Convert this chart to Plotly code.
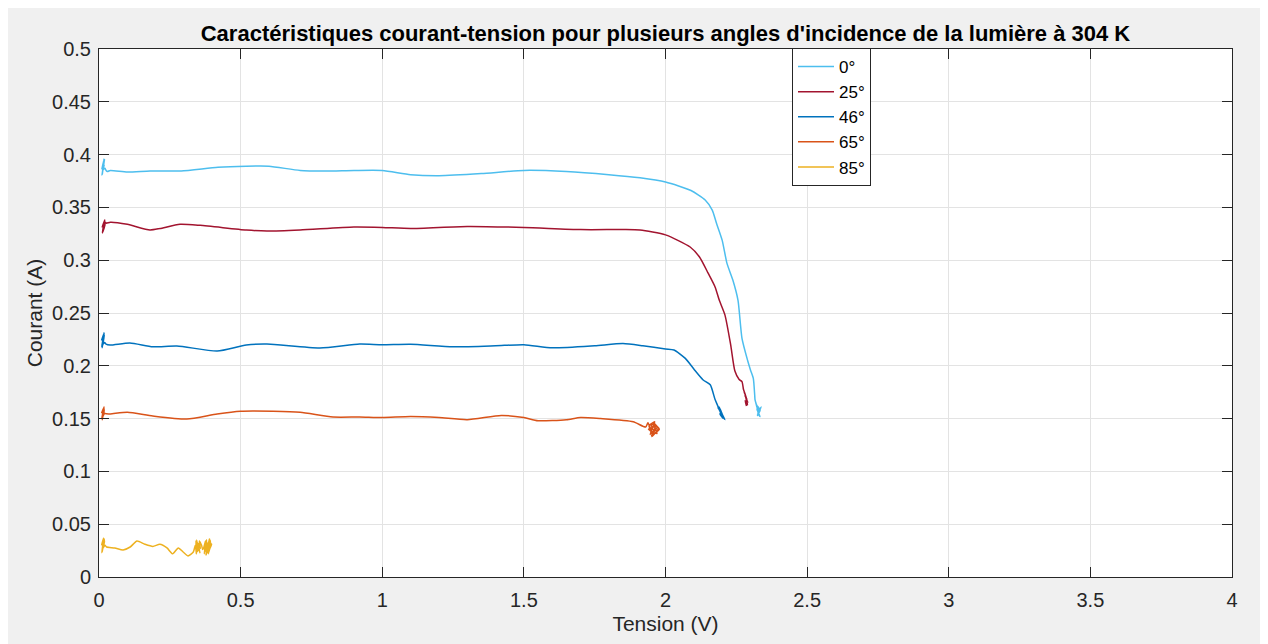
import plotly.graph_objects as go

# ---------------- data ----------------
angle_labels = ["0°", "25°", "46°", "65°", "85°"]
colors = ["#4DBEEE", "#A2142F", "#0072BD", "#D95319", "#EDB120"]

# 0°
v_0 = [0.010, 0.016, 0.012, 0.018, 0.011, 0.017, 0.013, 0.019, 0.012, 0.018, 0.015, 0.021, 0.025, 0.030,
       0.04, 0.10, 0.18, 0.29, 0.42, 0.52, 0.60, 0.71, 0.80, 0.90, 1.00, 1.10, 1.20, 1.35, 1.50, 1.65, 1.80,
       1.91, 2.00, 2.09, 2.14, 2.165, 2.18, 2.20, 2.217, 2.238, 2.256, 2.27, 2.29, 2.30, 2.31, 2.315,
       2.316, 2.324, 2.318, 2.330, 2.320, 2.334, 2.324, 2.338, 2.326, 2.334, 2.322, 2.330]
i_0 = [0.386, 0.394, 0.382, 0.396, 0.381, 0.392, 0.384, 0.395, 0.383, 0.390, 0.386, 0.387, 0.385, 0.384,
       0.385, 0.3835, 0.3845, 0.3845, 0.388, 0.389, 0.389, 0.385, 0.3845, 0.385, 0.385, 0.381, 0.380, 0.382,
       0.385, 0.384, 0.381, 0.378, 0.374, 0.366, 0.357, 0.3475, 0.335, 0.319, 0.297, 0.281, 0.262, 0.226,
       0.205, 0.196, 0.188, 0.172,
       0.168, 0.160, 0.166, 0.156, 0.163, 0.158, 0.153, 0.161, 0.155, 0.152, 0.159, 0.154]

# 25°
v_25 = [0.011, 0.018, 0.012, 0.020, 0.013, 0.021, 0.014, 0.022, 0.016, 0.023, 0.026,
        0.04, 0.10, 0.18, 0.215, 0.286, 0.357, 0.52, 0.593, 0.71, 0.90, 1.00, 1.10, 1.30, 1.50, 1.70, 1.85,
        1.91, 2.00, 2.087, 2.12, 2.15, 2.175, 2.19, 2.21, 2.23, 2.245, 2.26, 2.27, 2.275,
        2.276, 2.284, 2.278, 2.288, 2.280, 2.291, 2.283, 2.290, 2.281, 2.286]
i_25 = [0.331, 0.337, 0.326, 0.338, 0.328, 0.335, 0.327, 0.334, 0.330, 0.336, 0.335,
        0.336, 0.334, 0.3286, 0.330, 0.334, 0.333, 0.3286, 0.3276, 0.3286, 0.3314, 0.331, 0.330, 0.332,
        0.331, 0.329, 0.329, 0.3286, 0.324, 0.3125, 0.303, 0.288, 0.2747, 0.262, 0.248, 0.220, 0.195,
        0.187, 0.185, 0.178,
        0.177, 0.171, 0.175, 0.168, 0.172, 0.165, 0.170, 0.163, 0.167, 0.162]

# 46°
v_46 = [0.009, 0.016, 0.010, 0.018, 0.011, 0.019, 0.010, 0.018, 0.012, 0.020, 0.025,
        0.039, 0.109, 0.19, 0.275, 0.417, 0.52, 0.593, 0.78, 0.92, 1.00, 1.10, 1.25, 1.40, 1.50, 1.60,
        1.75, 1.85, 1.92, 2.00, 2.03, 2.07, 2.10, 2.133, 2.158, 2.175, 2.186,
        2.186, 2.198, 2.189, 2.204, 2.190, 2.208, 2.192, 2.210, 2.194, 2.206, 2.192, 2.204]
i_46 = [0.224, 0.230, 0.218, 0.231, 0.217, 0.229, 0.219, 0.228, 0.220, 0.222, 0.2205,
        0.2197, 0.2216, 0.218, 0.2188, 0.214, 0.2197, 0.2206, 0.2169, 0.2206, 0.220, 0.2205, 0.218, 0.219,
        0.220, 0.217, 0.219, 0.221, 0.219, 0.216, 0.215, 0.207, 0.197, 0.1866, 0.182, 0.168, 0.161,
        0.160, 0.156, 0.161, 0.152, 0.158, 0.150, 0.155, 0.149, 0.157, 0.151, 0.154, 0.150]

# 65°
v_65 = [0.009, 0.016, 0.010, 0.018, 0.011, 0.019, 0.012, 0.018, 0.013, 0.020, 0.026,
        0.04, 0.10, 0.19, 0.31, 0.417, 0.50, 0.615, 0.71, 0.826, 0.92, 1.00, 1.10, 1.20, 1.30, 1.42, 1.50,
        1.55, 1.65, 1.70, 1.77, 1.886, 1.93,
        1.938, 1.950, 1.942, 1.962, 1.946, 1.972, 1.950, 1.978, 1.956, 1.970, 1.944, 1.966, 1.952,
        1.975, 1.948, 1.960, 1.940, 1.968]
i_65 = [0.155, 0.160, 0.150, 0.161, 0.149, 0.158, 0.151, 0.159, 0.152, 0.155, 0.1545,
        0.1544, 0.156, 0.1525, 0.1496, 0.1544, 0.157, 0.157, 0.156, 0.1515, 0.1515, 0.151, 0.152, 0.151,
        0.149, 0.153, 0.151, 0.148, 0.149, 0.151, 0.150, 0.147, 0.142,
        0.146, 0.138, 0.143, 0.147, 0.135, 0.142, 0.134, 0.140, 0.146, 0.136, 0.139, 0.144, 0.133,
        0.141, 0.145, 0.137, 0.140, 0.143]

# 85°
v_85 = [0.009, 0.016, 0.010, 0.018, 0.011, 0.019, 0.012, 0.020, 0.013, 0.021,
        0.027, 0.056, 0.085, 0.11, 0.134, 0.162, 0.19, 0.215, 0.24, 0.26, 0.28, 0.297, 0.314, 0.333,
        0.340, 0.344, 0.342, 0.348, 0.345, 0.352, 0.347, 0.356, 0.350, 0.358, 0.354, 0.362, 0.366,
        0.370, 0.376, 0.372, 0.380, 0.375, 0.385, 0.378, 0.390, 0.382, 0.394, 0.386, 0.396, 0.388,
        0.392, 0.384, 0.398, 0.390]
i_85 = [0.030, 0.037, 0.023, 0.036, 0.024, 0.035, 0.025, 0.034, 0.027, 0.030,
        0.0284, 0.0275, 0.0256, 0.0284, 0.034, 0.031, 0.029, 0.031, 0.0275, 0.022, 0.0275, 0.0237, 0.020,
        0.0237,
        0.030, 0.022, 0.034, 0.024, 0.035, 0.025, 0.033, 0.023, 0.032, 0.027, 0.034, 0.030, 0.026,
        0.028, 0.034, 0.022, 0.035, 0.024, 0.033, 0.021, 0.036, 0.025, 0.034, 0.022, 0.032, 0.026,
        0.035, 0.023, 0.031, 0.028]

series_v = [v_0, v_25, v_46, v_65, v_85]
series_i = [i_0, i_25, i_46, i_65, i_85]

x_tickvals = [0, 0.5, 1, 1.5, 2, 2.5, 3, 3.5, 4]
x_ticktext = ["0", "0.5", "1", "1.5", "2", "2.5", "3", "3.5", "4"]
y_tickvals = [0, 0.05, 0.1, 0.15, 0.2, 0.25, 0.3, 0.35, 0.4, 0.45, 0.5]
y_ticktext = ["0", "0.05", "0.1", "0.15", "0.2", "0.25", "0.3", "0.35", "0.4", "0.45", "0.5"]

title_text = "Caractéristiques courant-tension pour plusieurs angles d'incidence de la lumière à 304 K"
x_title = "Tension (V)"
y_title = "Courant (A)"

# ---------------- figure ----------------
FONT = "Liberation Sans, Arial, Helvetica, sans-serif"
AX = "#262626"
GRID = "#e3e3e3"

fig = go.Figure()
for lab, col, vv, ii in zip(angle_labels, colors, series_v, series_i):
    fig.add_trace(go.Scatter(x=vv, y=ii, mode="lines", name=lab,
                             line=dict(color=col, width=1.5, shape="spline", smoothing=0.6)))

# the page body adds an 8px offset; figure coordinates below are page minus 8
W, H = 1268, 644
L, R, T, B = 91, 44, 41, 75
pw, ph = W - L - R, H - T - B

def px2x(px):
    return (px - L) / pw

def py2y(py):
    return (H - B - py) / ph

fig.update_layout(
    width=W, height=H,
    margin=dict(l=L, r=R, t=T, b=B, pad=0),
    paper_bgcolor="#f0f0f0",
    plot_bgcolor="#ffffff",
    font=dict(family=FONT, color=AX, size=20),
    title=dict(text=title_text, x=0.5, xref="paper", xanchor="center",
               y=1 - 25 / H, yanchor="middle", yref="container",
               font=dict(family=FONT, size=22, color="#000000", weight="bold")),
    showlegend=True,
    legend=dict(x=px2x(784), y=py2y(40), xanchor="left", yanchor="top",
                bgcolor="#ffffff", bordercolor=AX, borderwidth=1,
                font=dict(family=FONT, size=17, color="#000000"),
                tracegroupgap=0, itemwidth=36),
)

fig.update_xaxes(
    range=[0, 4], tickvals=x_tickvals, ticktext=x_ticktext,
    showgrid=True, gridcolor=GRID, gridwidth=1, zeroline=False,
    showline=True, linecolor=AX, linewidth=1, mirror="ticks",
    ticks="inside", ticklen=10, tickcolor=AX, tickwidth=1,
    tickfont=dict(family=FONT, size=20, color=AX), ticklabelstandoff=5,
    title=dict(text=x_title, font=dict(family=FONT, size=21, color=AX), standoff=6),
)
fig.update_yaxes(
    range=[0, 0.5], tickvals=y_tickvals, ticktext=y_ticktext,
    showgrid=True, gridcolor=GRID, gridwidth=1, zeroline=False,
    showline=True, linecolor=AX, linewidth=1, mirror="ticks",
    ticks="inside", ticklen=10, tickcolor=AX, tickwidth=1,
    tickfont=dict(family=FONT, size=20, color=AX), ticklabelstandoff=3,
    title=dict(text=y_title, font=dict(family=FONT, size=21, color=AX), standoff=3),
)

fig.write_html("out.html")
